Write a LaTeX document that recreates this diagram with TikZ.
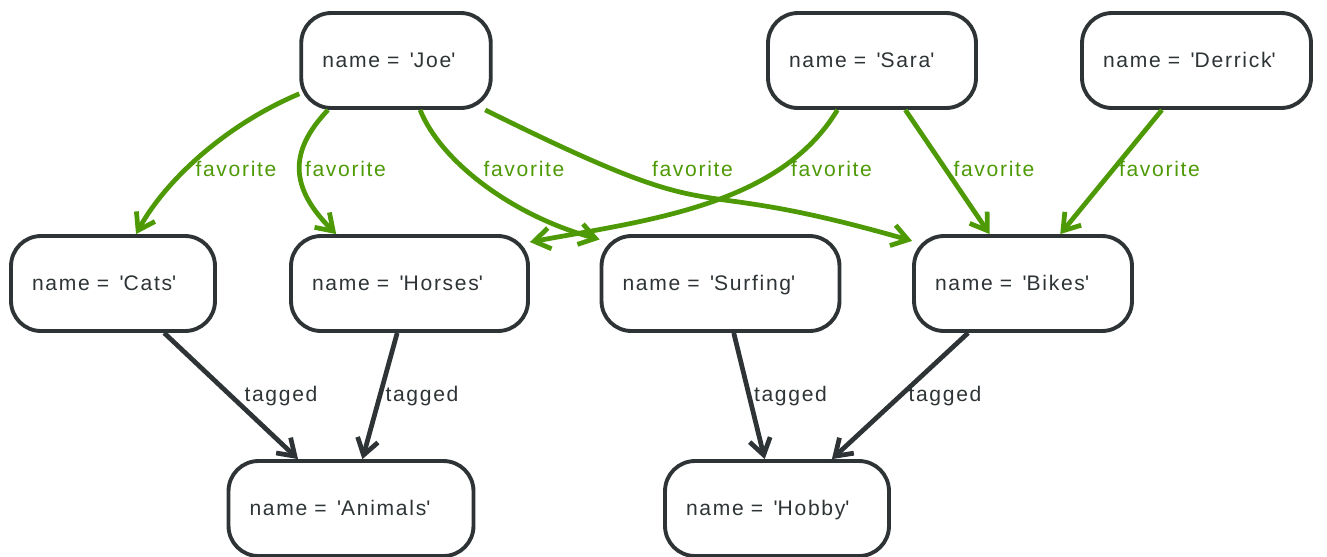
\documentclass[tikz,border=0pt]{standalone}
\usepackage{fontspec}
\setmainfont{Liberation Sans}[LetterSpace=8.0]
\usetikzlibrary{arrows.meta}
\definecolor{ink}{HTML}{2E3436}
\definecolor{favgreen}{HTML}{4E9A06}
\newcommand{\nameval}[1]{name = \,\textquotesingle#1\textquotesingle}

\begin{document}
\begin{tikzpicture}[x=0.02cm,y=-0.02cm,>={Straight Barb[length=9pt,width=12pt]},font=\fontsize{12}{14}\selectfont]
  \tikzset{entity/.style={draw=ink,text=ink,line width=2.2pt,rounded corners=0.6cm,fill=white,align=left,inner xsep=0.42cm,minimum height=1.9cm,text height=10pt,text depth=2.2pt,text width=#1},
    rel/.style={->,ink,line width=2.7pt},
    fav/.style={->,favgreen,line width=2.7pt},
    rellabel/.style={ink},
    favlabel/.style={favgreen}}

  \useasboundingbox (0,0) rectangle (1327,556);

  % people
  \node[entity=2.95cm] (joe)     at (396,60.5)    {\nameval{Joe}};
  \node[entity=3.32cm] (sara)    at (872,60.5)    {\nameval{Sara}};
  \node[entity=3.74cm] (derrick) at (1196.5,60.5) {\nameval{Derrick}};

  % things
  \node[entity=3.24cm] (cats)    at (113,283.5)   {\nameval{Cats}};
  \node[entity=3.90cm] (horses)  at (409.5,283.5) {\nameval{Horses}};
  \node[entity=3.92cm] (surfing) at (720.5,283.5) {\nameval{Surfing}};
  \node[entity=3.52cm] (bikes)   at (1023,283.5)  {\nameval{Bikes}};

  % tags
  \node[entity=4.06cm] (animals) at (351,508.5)   {\nameval{Animals}};
  \node[entity=3.64cm] (hobby)   at (777,508.5)   {\nameval{Hobby}};

  \draw[fav] (joe.199) .. controls (225,125) and (165,181) .. (cats.65);
  \draw[fav] (joe.216) .. controls (288,152) and (290,188) .. (horses.146);
  \draw[fav] (joe.296) .. controls (440,160) and (510,215) .. (surfing.160);
  \draw[fav] (joe.331) .. controls (743,238) and (661,169) .. (bikes.159);
  \draw[fav] (sara.235) .. controls (780,205) and (650,220) .. (horses.19);
  \draw[fav] (sara.304) -- (bikes.124);
  \draw[fav] (derrick.235) -- (bikes.53);

  \draw[rel] (cats.316) -- (animals.137);
  \draw[rel] (horses.256) -- (animals.77);
  \draw[rel] (surfing.285) -- (hobby.104);
  \draw[rel] (bikes.222) -- (hobby.42);

  \node[favlabel] (fav1) at (236,169)    {favorite};
  \node[favlabel] (fav2) at (345.5,169)  {favorite};
  \node[favlabel] (fav3) at (524,169)    {favorite};
  \node[favlabel] (fav4) at (692.5,169)  {favorite};
  \node[favlabel] (fav5) at (831.5,169)  {favorite};
  \node[favlabel] (fav6) at (994,169)    {favorite};
  \node[favlabel] (fav7) at (1159.5,169) {favorite};

  \node[rellabel] (tag1) at (281,396)    {tagged};
  \node[rellabel] (tag2) at (422,396)    {tagged};
  \node[rellabel] (tag3) at (790.5,396)  {tagged};
  \node[rellabel] (tag4) at (945,396)    {tagged};
\end{tikzpicture}
\end{document}
